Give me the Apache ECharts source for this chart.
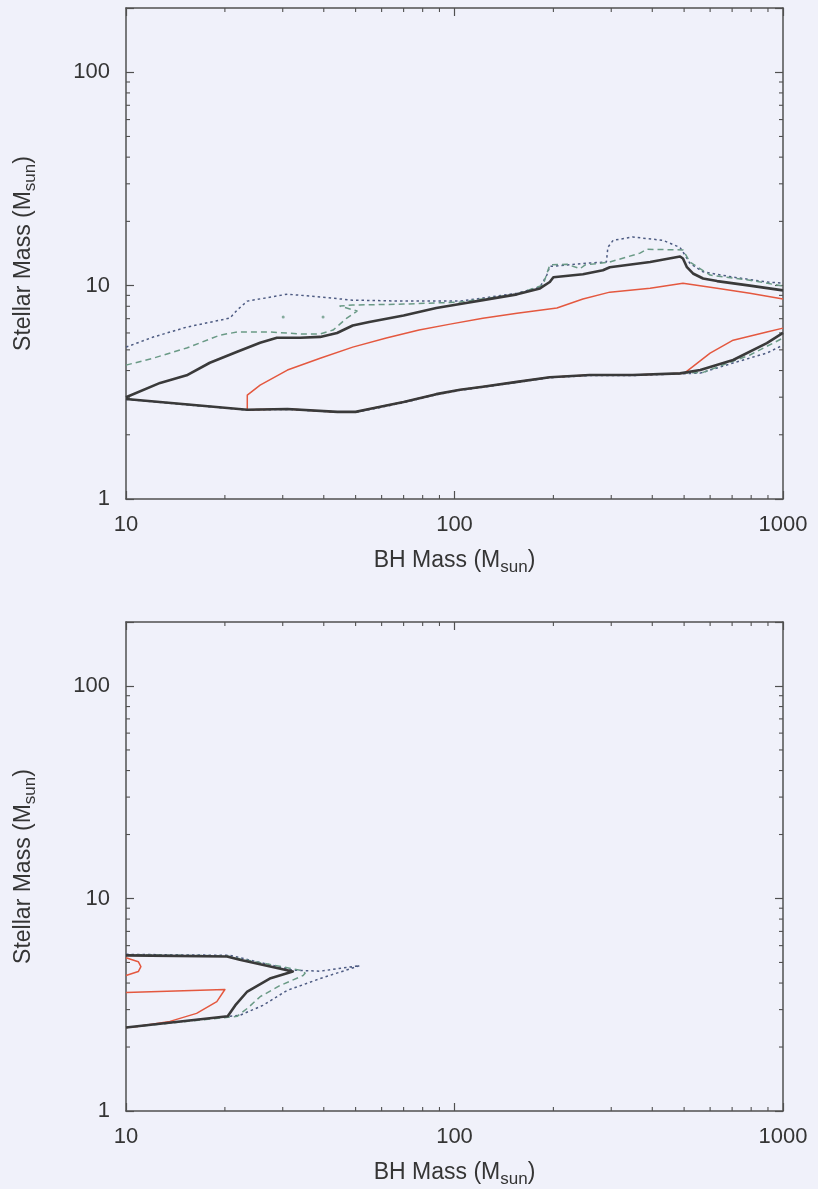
<!DOCTYPE html>
<html>
<head>
<meta charset="utf-8">
<script src="https://cdn.jsdelivr.net/npm/echarts@6/dist/echarts.min.js"></script>
<style>
  html, body { margin: 0; padding: 0; background: #f0f1fa; }
  #chart { width: 818px; height: 1189px; }
</style>
</head>
<body>
<div id="chart"></div>
<script>
// Tick labels
const xTickLabels = ['10', '100', '1000'];
const yTickLabels = ['1', '10', '100'];
const minorX = [20, 30, 40, 50, 60, 70, 80, 90, 200, 300, 400, 500, 600, 700, 800, 900];
const minorY = [2, 3, 4, 5, 6, 7, 8, 9, 20, 30, 40, 50, 60, 70, 80, 90];

// Upper panel contours: [BH mass, stellar mass]
const topBlackUpper = [[10,3.0],[12.7,3.5],[15.3,3.8],[18,4.35],[21.8,4.9],[25.6,5.4],[28.8,5.7],[33.9,5.7],[39,5.75],[43.9,6.0],[49,6.5],[55,6.75],[70,7.25],[88,7.85],[104,8.2],[122,8.55],[155,9.1],[182,9.7],[195,10.4],[200,10.95],[246,11.3],[283,11.8],[297,12.2],[394,12.9],[486,13.7],[496,13.4],[510,12.2],[532,11.4],[571,10.8],[630,10.5],[793,10.0],[1000,9.5]];
const topBlackLower = [[10,2.94],[23.4,2.62],[31,2.64],[44,2.56],[50,2.56],[55,2.64],[70,2.85],[88,3.1],[104,3.25],[122,3.36],[155,3.54],[195,3.72],[258,3.81],[349,3.81],[486,3.88],[560,4.02],[705,4.48],[893,5.38],[1000,6.0]];
const topRedUpper = [[23.4,2.62],[23.4,3.07],[25.6,3.42],[31,4.02],[39,4.57],[49,5.15],[62,5.68],[78,6.19],[97,6.6],[122,7.04],[155,7.43],[205,7.85],[246,8.65],[297,9.32],[394,9.73],[496,10.27],[630,9.73],[793,9.2],[1000,8.65]];
const topRedLower = [[23.4,2.62],[31,2.64],[44,2.56],[50,2.56],[55,2.64],[70,2.85],[88,3.1],[104,3.25],[122,3.36],[155,3.54],[195,3.72],[258,3.81],[349,3.81],[500,3.88],[600,4.83],[705,5.55],[893,6.06],[1000,6.32]];
const topGreenUpper = [[10,4.24],[12.1,4.57],[15.3,5.1],[19.3,5.86],[21.8,6.06],[27.4,6.06],[34.6,5.93],[39,5.93],[42.7,6.19],[47,7.04],[50.5,7.6],[44.8,8.02],[49,8.11],[70,8.19],[104,8.37],[155,9.12],[186,10.05],[195,12.5],[220,12.6],[241,12.0],[250,12.5],[297,12.9],[367,14.2],[385,14.8],[496,14.7],[521,12.9],[600,11.2],[793,10.6],[1000,9.95]];
const topGreenLower = [[10,2.94],[23.4,2.62],[31,2.64],[44,2.56],[50,2.56],[55,2.64],[70,2.85],[88,3.1],[104,3.25],[122,3.36],[155,3.54],[195,3.72],[258,3.81],[349,3.81],[486,3.88],[571,3.92],[630,4.15],[793,4.73],[1000,5.68]];
const topGreenIslands = [[30.1,7.12],[39.8,7.12]];
const topDotUpper = [[10,5.15],[12.1,5.74],[15.3,6.39],[20.7,7.04],[21.8,7.68],[23.4,8.46],[31,9.12],[39,8.84],[49,8.55],[70,8.46],[104,8.46],[122,8.74],[155,9.22],[182,9.84],[191,11.2],[195,12.3],[246,12.7],[290,12.9],[293,15.1],[304,16.3],[349,16.9],[431,16.3],[486,15.1],[503,13.9],[521,12.7],[571,11.6],[705,10.96],[893,10.4],[1000,10.27]];
const topDotLower = [[10,2.93],[23.4,2.61],[31,2.63],[44,2.55],[50,2.55],[55,2.62],[70,2.83],[88,3.08],[104,3.23],[122,3.34],[155,3.52],[195,3.7],[258,3.79],[349,3.79],[486,3.86],[560,3.89],[705,4.34],[893,4.83],[1000,5.26]];

// Lower panel contours
const botBlack = [[10,5.4],[20.3,5.33],[22.2,5.15],[32.2,4.53],[27.4,4.2],[23.4,3.65],[21.5,3.14],[20.4,2.79],[10,2.47]];
const botRedLoop = [[10,5.26],[10.9,5.04],[11.1,4.78],[10.9,4.53],[10,4.34]];
const botRed = [[10,3.61],[20,3.73],[18.9,3.27],[16.4,2.88],[13.6,2.64],[10.8,2.5],[10,2.47]];
const botGreen = [[10,5.44],[20.3,5.37],[22.2,5.2],[33.9,4.6],[35.1,4.45],[34.6,4.34],[29.4,3.89],[25.6,3.45],[23.4,3.04],[21.8,2.79],[10,2.47]];
const botDot = [[10,5.46],[20.7,5.4],[32.2,4.6],[39,4.55],[51.5,4.83],[39,4.2],[30.9,3.69],[26.1,3.14],[22.2,2.82],[20.7,2.79],[10,2.47]];

const X_MIN = 10, X_MAX = 1000, Y_MIN = 1, Y_MAX = 200;
const FONT = '"Liberation Sans", Arial, Helvetica, sans-serif';
const AXIS_COLOR = '#505050';
const TEXT_COLOR = '#353535';

const STYLES = {
  black: { color: '#3a3a3a', width: 2.6, type: 'solid' },
  red:   { color: '#e4583f', width: 1.5, type: 'solid' },
  green: { color: '#6a9a86', width: 1.5, type: [6, 4] },
  dot:   { color: '#4d5b82', width: 1.5, type: [2.5, 3] }
};

const grids = [
  { left: 126, top: 8, width: 657, height: 491 },
  { left: 126, top: 622, width: 657, height: 491 }
];

function labelFormatter(labels) {
  return function (v) {
    const s = String(Math.round(v));
    return labels.indexOf(s) >= 0 && Math.abs(Math.round(v) - v) < 1e-6 ? s : '';
  };
}

const titleStyle = {
  fontSize: 23, color: TEXT_COLOR, fontFamily: FONT, lineHeight: 25,
  rich: { s: { fontSize: 17, color: TEXT_COLOR, fontFamily: FONT, lineHeight: 17, padding: [14, 0, 0, 0] } }
};

const xAxes = [], yAxes = [];
grids.forEach(function (g, i) {
  const common = {
    type: 'log', logBase: 10, gridIndex: i,
    axisLine: { show: true, lineStyle: { color: AXIS_COLOR, width: 1.5 } },
    axisTick: { show: true, inside: true, length: 8, lineStyle: { color: AXIS_COLOR, width: 1.2 } },
    splitLine: { show: false }
  };
  xAxes.push(Object.assign({}, common, {
    min: X_MIN, max: X_MAX, position: 'bottom',
    axisLabel: { show: true, margin: 15, fontSize: 22, color: TEXT_COLOR, fontFamily: FONT, formatter: labelFormatter(xTickLabels) },
    name: 'BH Mass (M{s|sun})', nameLocation: 'middle', nameGap: 49,
    nameTextStyle: titleStyle
  }));
  xAxes.push(Object.assign({}, common, {
    min: X_MIN, max: X_MAX, position: 'top', axisLabel: { show: false }
  }));
  yAxes.push(Object.assign({}, common, {
    min: Y_MIN, max: Y_MAX, position: 'left',
    axisLabel: { show: true, margin: 16, fontSize: 22, color: TEXT_COLOR, fontFamily: FONT, formatter: labelFormatter(yTickLabels) },
    name: 'Stellar Mass (M{s|sun})', nameLocation: 'middle', nameGap: 90, nameRotate: 90,
    nameTextStyle: titleStyle
  }));
  yAxes.push(Object.assign({}, common, {
    min: Y_MIN, max: Y_MAX, position: 'right', axisLabel: { show: false }
  }));
});

// Minor ticks on all four sides, placed through the log axes
function minorTickSeries(gridIdx, values, dir) {
  return {
    type: 'custom', xAxisIndex: gridIdx * 2, yAxisIndex: gridIdx * 2,
    silent: true, clip: false, z: 5,
    data: values.map(function (v) { return dir === 'x' ? [v, Y_MIN] : [X_MIN, v]; }),
    encode: { x: 0, y: 1 },
    renderItem: function (params, api) {
      const v = dir === 'x' ? api.value(0) : api.value(1);
      const a = dir === 'x' ? api.coord([v, Y_MIN]) : api.coord([X_MIN, v]);
      const b = dir === 'x' ? api.coord([v, Y_MAX]) : api.coord([X_MAX, v]);
      const st = { stroke: AXIS_COLOR, lineWidth: 1.1 };
      const L = 4;
      return {
        type: 'group',
        children: dir === 'x' ? [
          { type: 'line', shape: { x1: a[0], y1: a[1], x2: a[0], y2: a[1] - L }, style: st },
          { type: 'line', shape: { x1: b[0], y1: b[1], x2: b[0], y2: b[1] + L }, style: st }
        ] : [
          { type: 'line', shape: { x1: a[0], y1: a[1], x2: a[0] + L, y2: a[1] }, style: st },
          { type: 'line', shape: { x1: b[0], y1: b[1], x2: b[0] - L, y2: b[1] }, style: st }
        ]
      };
    }
  };
}

function contour(gridIdx, data, style, z) {
  return {
    type: 'line', xAxisIndex: gridIdx * 2, yAxisIndex: gridIdx * 2,
    data: data, showSymbol: false, symbol: 'none', smooth: false, z: z,
    lineStyle: { color: style.color, width: style.width, type: style.type, cap: 'butt', join: 'round' },
    silent: true, animation: false
  };
}

const series = [
  minorTickSeries(0, minorX, 'x'), minorTickSeries(0, minorY, 'y'),
  minorTickSeries(1, minorX, 'x'), minorTickSeries(1, minorY, 'y'),
  contour(0, topDotUpper, STYLES.dot, 2),
  contour(0, topDotLower, STYLES.dot, 2),
  contour(0, topGreenUpper, STYLES.green, 3),
  contour(0, topGreenLower, STYLES.green, 3),
  {
    type: 'scatter', xAxisIndex: 0, yAxisIndex: 0, data: topGreenIslands,
    symbol: 'circle', symbolSize: 3, itemStyle: { color: STYLES.green.color }, silent: true, z: 3
  },
  contour(0, topRedUpper, STYLES.red, 4),
  contour(0, topRedLower, STYLES.red, 4),
  contour(0, topBlackUpper, STYLES.black, 6),
  contour(0, topBlackLower, STYLES.black, 6),
  contour(1, botDot, STYLES.dot, 2),
  contour(1, botGreen, STYLES.green, 3),
  contour(1, botRedLoop, STYLES.red, 4),
  contour(1, botRed, STYLES.red, 4),
  contour(1, botBlack, STYLES.black, 6)
];

const chart = echarts.init(document.getElementById('chart'), null, { renderer: 'canvas' });
chart.setOption({
  backgroundColor: '#f0f1fa',
  animation: false,
  grid: grids,
  xAxis: xAxes,
  yAxis: yAxes,
  series: series
});
</script>
</body>
</html>
